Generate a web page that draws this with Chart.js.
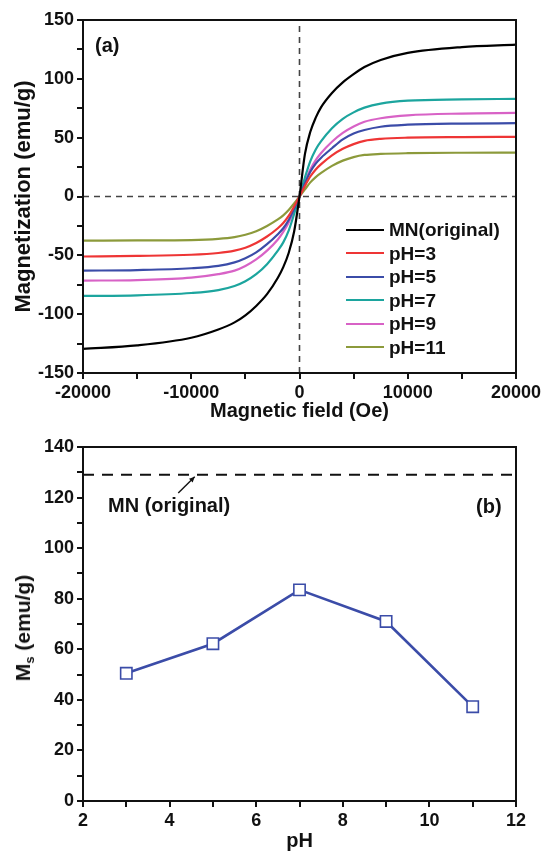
<!DOCTYPE html>
<html>
<head>
<meta charset="utf-8">
<script src="https://cdn.jsdelivr.net/npm/chart.js@4/dist/chart.umd.min.js"></script>
<style>
  html, body { margin: 0; padding: 0; background: #fff; }
  body { width: 544px; height: 853px; position: relative; overflow: hidden;
         font-family: "Liberation Sans", Arial, sans-serif; font-weight: bold; color: #111; }
  #wrapA { position: absolute; left: 0; top: 0; width: 544px; height: 430px; }
  #wrapB { position: absolute; left: 0; top: 430px; width: 544px; height: 423px; }
  .lbl { position: absolute; font-size: 20px; white-space: nowrap; line-height: 1; }
  #legend { position: absolute; left: 346px; top: 218px; }
  .item { position: relative; height: 23.5px; display: flex; align-items: center; }
  .item .sw { width: 38px; height: 0; border-top: 2.5px solid; margin-right: 5px; }
  .item span { font-size: 19px; line-height: 1; }
  #msTitle { position: absolute; left: 24px; top: 628px; transform: translate(-50%, -50%) rotate(-90deg);
             font-size: 21px; white-space: nowrap; }
  #msTitle sub { font-size: 13px; vertical-align: -4px; }
</style>
</head>
<body>
<div id="wrapA"><canvas id="chartA" width="544" height="430"></canvas></div>
<div id="wrapB"><canvas id="chartB" width="544" height="423"></canvas></div>
<div class="lbl" style="left:95px; top:35px;">(a)</div>
<div id="legend"></div>
<div class="lbl" style="left:108px; top:495px;">MN (original)</div>
<div class="lbl" style="left:476px; top:496px;">(b)</div>
<div id="msTitle">M<sub>s</sub> (emu/g)</div>
<script>
// ---------- data ----------
const fieldOe = [-20000, -15000, -10000, -7500, -6000, -5000, -4000, -3000, -2000, -1500, -1000, -500,
                 0, 500, 1000, 1500, 2000, 3000, 4000, 5000, 6000, 7500, 10000, 15000, 20000];
const mOriginal = [-129.5, -126.5, -120, -113, -107, -101, -93, -83, -69, -60, -48, -30,
                   0, 36, 55, 67, 76, 88, 97, 104, 110, 116, 122, 127, 129];
const mPH3 = [-51, -50.5, -49.5, -48, -46, -43.5, -39.5, -34, -27, -22.5, -16.5, -8.5,
              0, 9, 17, 23, 27.5, 35, 40.5, 44.5, 47.3, 49, 50, 50.5, 50.7];
const mPH5 = [-63, -62.5, -61, -59, -56, -52.5, -47.5, -40.5, -32, -27, -20, -10.5,
              0, 11, 21, 28, 33, 41, 48.5, 53.5, 56.5, 59.3, 61, 62, 62.3];
const mPH7 = [-84.5, -84, -82, -79.5, -76, -72, -66, -57.5, -46, -39, -29, -15,
              0, 16, 30, 40, 47, 58, 66, 71.5, 75.5, 79, 81.5, 82.5, 83];
const mPH9 = [-71.5, -71, -69, -66, -63, -59, -53.5, -46, -36.5, -30, -22, -11.5,
              0, 12, 23, 31, 37, 46.5, 54, 59.5, 63.5, 66.5, 69, 70.5, 71];
const mPH11 = [-37.5, -37.3, -37, -36, -34.5, -32.5, -29.5, -25, -19.5, -16, -11.5, -6,
               0, 6, 12, 16.5, 20, 26, 30.5, 33.5, 35.3, 36.2, 36.8, 37.2, 37.3];
const seriesLabels = ["MN(original)", "pH=3", "pH=5", "pH=7", "pH=9", "pH=11"];
const seriesColors = ["#000000", "#EE3535", "#3B4CA8", "#1CA59E", "#D862C6", "#8C9A3B"];

const phValues = [3, 5, 7, 9, 11];
const msValues = [50.5, 62.2, 83.5, 71, 37.3];
const msOriginal = 129;

const xTicksA = [-20000, -10000, 0, 10000, 20000];
const yTicksA = [-150, -100, -50, 0, 50, 100, 150];
const xTicksB = [2, 4, 6, 8, 10, 12];
const yTicksB = [0, 20, 40, 60, 80, 100, 120, 140];

// ---------- helpers ----------
const FONT = '"Liberation Sans", Arial, sans-serif';
const tickFont = { family: FONT, size: 18, weight: 'bold' };
const titleFont = { family: FONT, size: 20, weight: 'bold' };
const yTitleFont = { family: FONT, size: 22, weight: 'bold' };

const framePlugin = {
  id: 'frame',
  afterDatasetsDraw(chart) {
    const { ctx, chartArea: a } = chart;
    ctx.save();
    ctx.strokeStyle = '#111';
    ctx.lineWidth = 2;
    ctx.strokeRect(a.left, a.top, a.right - a.left, a.bottom - a.top);
    ctx.restore();
  }
};

function axisCommon(min, max, step, shown) {
  return {
    type: 'linear', min, max,
    ticks: {
      stepSize: step, font: tickFont, color: '#111', padding: 3, autoSkip: false,
      maxRotation: 0, minRotation: 0,
      callback: v => (shown.includes(v) ? String(v) : '')
    },
    grid: { drawOnChartArea: false, drawTicks: true, tickLength: 6, color: '#111', lineWidth: 2 },
    border: { display: true, color: '#111', width: 2 }
  };
}

function fixX(h) { return s => { s.height = h; s.paddingLeft = 0; s.paddingRight = 0; }; }
function fixY(w) { return s => { s.width = w; s.paddingTop = 0; s.paddingBottom = 0; }; }

// ---------- chart (a) ----------
const curves = [mOriginal, mPH3, mPH5, mPH7, mPH9, mPH11];
const dsA = curves.map((arr, i) => ({
  label: seriesLabels[i],
  data: fieldOe.map((x, k) => ({ x, y: arr[k] })),
  borderColor: seriesColors[i],
  borderWidth: 2.2,
  pointRadius: 0,
  cubicInterpolationMode: 'monotone',
  fill: false,
  order: 1
}));
dsA.push({
  label: 'zeroH', data: [{ x: -20000, y: 0 }, { x: 20000, y: 0 }],
  borderColor: '#444', borderWidth: 1.6, borderDash: [6, 5], pointRadius: 0, order: 10
});
dsA.push({
  label: 'zeroM', data: [{ x: 0, y: -150 }, { x: 0, y: 150 }],
  borderColor: '#444', borderWidth: 1.6, borderDash: [6, 5], pointRadius: 0, order: 10
});

const xA = axisCommon(-20000, 20000, 5000, xTicksA);
xA.title = { display: true, text: 'Magnetic field (Oe)', font: titleFont, color: '#111', padding: { top: 0, bottom: 7 } };
xA.afterFit = fixX(57);
const yA = axisCommon(-150, 150, 25, yTicksA);
yA.title = { display: true, text: 'Magnetization (emu/g)', font: yTitleFont, color: '#111', padding: { top: 11, bottom: 0 } };
yA.afterFit = fixY(83);

new Chart(document.getElementById('chartA'), {
  type: 'line',
  data: { datasets: dsA },
  options: {
    responsive: false, animation: false, parsing: true,
    layout: { padding: { top: 20, right: 28, bottom: 0, left: 0 } },
    scales: { x: xA, y: yA },
    plugins: { legend: { display: false }, tooltip: { enabled: false } }
  },
  plugins: [framePlugin]
});

// HTML legend from series arrays
const leg = document.getElementById('legend');
seriesLabels.forEach((t, i) => {
  const d = document.createElement('div');
  d.className = 'item';
  d.innerHTML = '<div class="sw" style="border-color:' + seriesColors[i] + '"></div><span>' + t + '</span>';
  leg.appendChild(d);
});

// ---------- chart (b) ----------
const arrowPlugin = {
  id: 'arrow',
  afterDatasetsDraw(chart) {
    const { ctx, scales: { x, y } } = chart;
    const x0 = x.getPixelForValue(4.2), y0 = y.getPixelForValue(121.8);
    const x1 = x.getPixelForValue(4.58), y1 = y.getPixelForValue(128.2);
    ctx.save();
    ctx.strokeStyle = '#111'; ctx.fillStyle = '#111'; ctx.lineWidth = 1.4;
    ctx.beginPath(); ctx.moveTo(x0, y0); ctx.lineTo(x1, y1); ctx.stroke();
    const ang = Math.atan2(y1 - y0, x1 - x0);
    ctx.beginPath();
    ctx.moveTo(x1, y1);
    ctx.lineTo(x1 - 6 * Math.cos(ang - 0.45), y1 - 6 * Math.sin(ang - 0.45));
    ctx.lineTo(x1 - 6 * Math.cos(ang + 0.45), y1 - 6 * Math.sin(ang + 0.45));
    ctx.closePath(); ctx.fill();
    ctx.restore();
  }
};

const xB = axisCommon(2, 12, 1, xTicksB);
xB.title = { display: true, text: 'pH', font: titleFont, color: '#111', padding: { top: 0, bottom: 0 } };
xB.afterFit = fixX(52);
const yB = axisCommon(0, 140, 10, yTicksB);
yB.title = { display: false };
yB.afterFit = fixY(83);

new Chart(document.getElementById('chartB'), {
  type: 'line',
  data: {
    datasets: [
      {
        label: 'Ms',
        data: phValues.map((x, k) => ({ x, y: msValues[k] })),
        borderColor: '#3B4CA8', borderWidth: 2.6,
        pointStyle: 'rect', pointRadius: 8, pointBorderWidth: 1.6,
        pointBackgroundColor: '#fff', pointBorderColor: '#3B4CA8',
        tension: 0, order: 1
      },
      {
        label: 'MN (original)',
        data: [{ x: 2, y: msOriginal }, { x: 12, y: msOriginal }],
        borderColor: '#111', borderWidth: 2, borderDash: [11, 8], pointRadius: 0, order: 5
      }
    ]
  },
  options: {
    responsive: false, animation: false,
    layout: { padding: { top: 17, right: 28, bottom: 0, left: 0 } },
    scales: { x: xB, y: yB },
    plugins: { legend: { display: false }, tooltip: { enabled: false } }
  },
  plugins: [framePlugin, arrowPlugin]
});
</script>
</body>
</html>
